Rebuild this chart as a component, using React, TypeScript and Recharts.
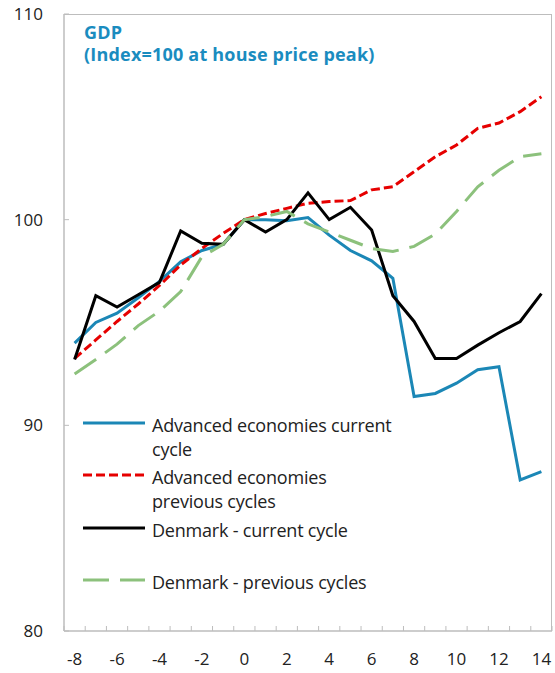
import { LineChart, Line, XAxis, YAxis } from "recharts"

const xs = [-8, -7, -6, -5, -4, -3, -2, -1, 0, 1, 2, 3, 4, 5, 6, 7, 8, 9, 10, 11, 12, 13, 14]
const xLabels = [-8, -6, -4, -2, 0, 2, 4, 6, 8, 10, 12, 14]
const yTicks = [80, 90, 100, 110]

const advCurrent = [94.0, 95.0, 95.45, 96.2, 97.0, 97.95, 98.5, 98.8, 100.0, 100.0, 99.95, 100.1, 99.25, 98.5, 98.0, 97.15, 91.4, 91.55, 92.05, 92.7, 92.85, 87.35, 87.75]
const advPrevious = [93.25, 94.15, 95.05, 95.9, 96.8, 97.8, 98.6, 99.33, 100.0, 100.3, 100.55, 100.8, 100.88, 100.93, 101.45, 101.6, 102.33, 103.06, 103.63, 104.44, 104.7, 105.25, 105.98]
const dkCurrent = [93.2, 96.3, 95.75, 96.35, 96.95, 99.45, 98.85, 98.8, 100.0, 99.4, 100.0, 101.3, 100.0, 100.6, 99.5, 96.3, 95.05, 93.25, 93.25, 93.9, 94.5, 95.05, 96.4]
const dkPrevious = [92.5, 93.2, 93.95, 94.85, 95.55, 96.5, 98.2, 98.8, 100.0, 100.15, 100.4, 99.8, 99.4, 99.0, 98.6, 98.45, 98.7, 99.3, 100.4, 101.6, 102.4, 103.06, 103.2]

const data = xs.map((x, i) => ({
  x,
  advCurrent: advCurrent[i],
  advPrevious: advPrevious[i],
  dkCurrent: dkCurrent[i],
  dkPrevious: dkPrevious[i],
}))

// minor ticks sit between categories
const xMinor = xs.map((x) => x + 0.5).concat([-8.5])
const xTickValues = [...xMinor, ...xLabels].sort((a, b) => a - b)

const FONT = "'Open Sans', sans-serif"
const AXIS = "#bdbdbd"

const series = [
  { key: "advCurrent", color: "#1b87b6", dash: undefined, lines: ["Advanced economies current", "cycle"] },
  { key: "advPrevious", color: "#e60000", dash: "9 4", lines: ["Advanced economies", "previous cycles"] },
  { key: "dkCurrent", color: "#000000", dash: undefined, lines: ["Denmark - current cycle"] },
  { key: "dkPrevious", color: "#8cc17c", dash: "26 11", lines: ["Denmark - previous cycles"] },
]

const XTick = (props: any) => {
  const { x, y, payload } = props
  const v = payload.value
  if (!Number.isInteger(v)) {
    return <line x1={x} x2={x} y1={y} y2={y - 5} stroke={AXIS} strokeWidth={1} />
  }
  if (!xLabels.includes(v)) return <g />
  return (
    <text x={x} y={y + 28} dy="0.35em" textAnchor="middle" fontFamily={FONT} fontSize={17} fill="#222">
      {v}
    </text>
  )
}

const YTick = (props: any) => {
  const { x, y, payload } = props
  return (
    <g>
      <line x1={x} x2={x + 5} y1={y} y2={y} stroke={AXIS} strokeWidth={1} />
      <text x={x - 21} y={y} dy="0.35em" textAnchor="end" fontFamily={FONT} fontSize={17} fill="#222">
        {payload.value}
      </text>
    </g>
  )
}

const LegendBox = () => (
  <div
    style={{
      position: "absolute",
      left: 83,
      top: 413,
      fontFamily: FONT,
      fontSize: 18,
      color: "#222",
      letterSpacing: -0.2,
    }}
  >
    {series.map((s) => (
      <div key={s.key} style={{ height: 52.3, display: "flex", alignItems: "flex-start" }}>
        <svg width={69} height={24} style={{ flexShrink: 0 }}>
          <line x1={0} x2={62} y1={10} y2={10} stroke={s.color} strokeWidth={3} strokeDasharray={s.dash} />
        </svg>
        <div style={{ lineHeight: "24px" }}>
          {s.lines.map((t) => (
            <div key={t}>{t}</div>
          ))}
        </div>
      </div>
    ))}
  </div>
)

export default function App() {
  return (
    <div style={{ position: "relative", width: 555, height: 673 }}>
      <style>{`body{margin:0}`}</style>
      <LineChart width={555} height={673} data={data} margin={{ top: 14, right: 3, left: 0, bottom: 0 }}>
        <XAxis
          dataKey="x"
          type="number"
          domain={[-8.5, 14.5]}
          ticks={xTickValues}
          interval={0}
          tickSize={0}
          tickMargin={0}
          tickLine={false}
          tick={<XTick />}
          stroke={AXIS}
          strokeWidth={1.5}
          height={42}
        />
        <YAxis
          domain={[80, 110]}
          ticks={yTicks}
          interval={0}
          tickSize={0}
          tickMargin={0}
          tickLine={false}
          tick={<YTick />}
          stroke={AXIS}
          strokeWidth={1.5}
          width={64}
        />
        {series.map((s) => (
          <Line
            key={s.key}
            dataKey={s.key}
            type="linear"
            stroke={s.color}
            strokeWidth={3}
            strokeDasharray={s.dash}
            dot={false}
            isAnimationActive={false}
          />
        ))}
      </LineChart>
      {/* plot frame */}
      <div
        style={{
          position: "absolute",
          left: 64,
          top: 14,
          width: 488,
          height: 617,
          borderTop: `1.5px solid ${AXIS}`,
          borderRight: `1.5px solid ${AXIS}`,
          boxSizing: "border-box",
          pointerEvents: "none",
        }}
      />
      <LegendBox />
      <div
        style={{
          position: "absolute",
          left: 84,
          top: 21,
          fontFamily: FONT,
          fontWeight: 700,
          fontSize: 18,
          lineHeight: "22px",
          color: "#1a8cbf",
          letterSpacing: 0.2,
        }}
      >
        <div>GDP</div>
        <div>(Index=100 at house price peak)</div>
      </div>
    </div>
  )
}
